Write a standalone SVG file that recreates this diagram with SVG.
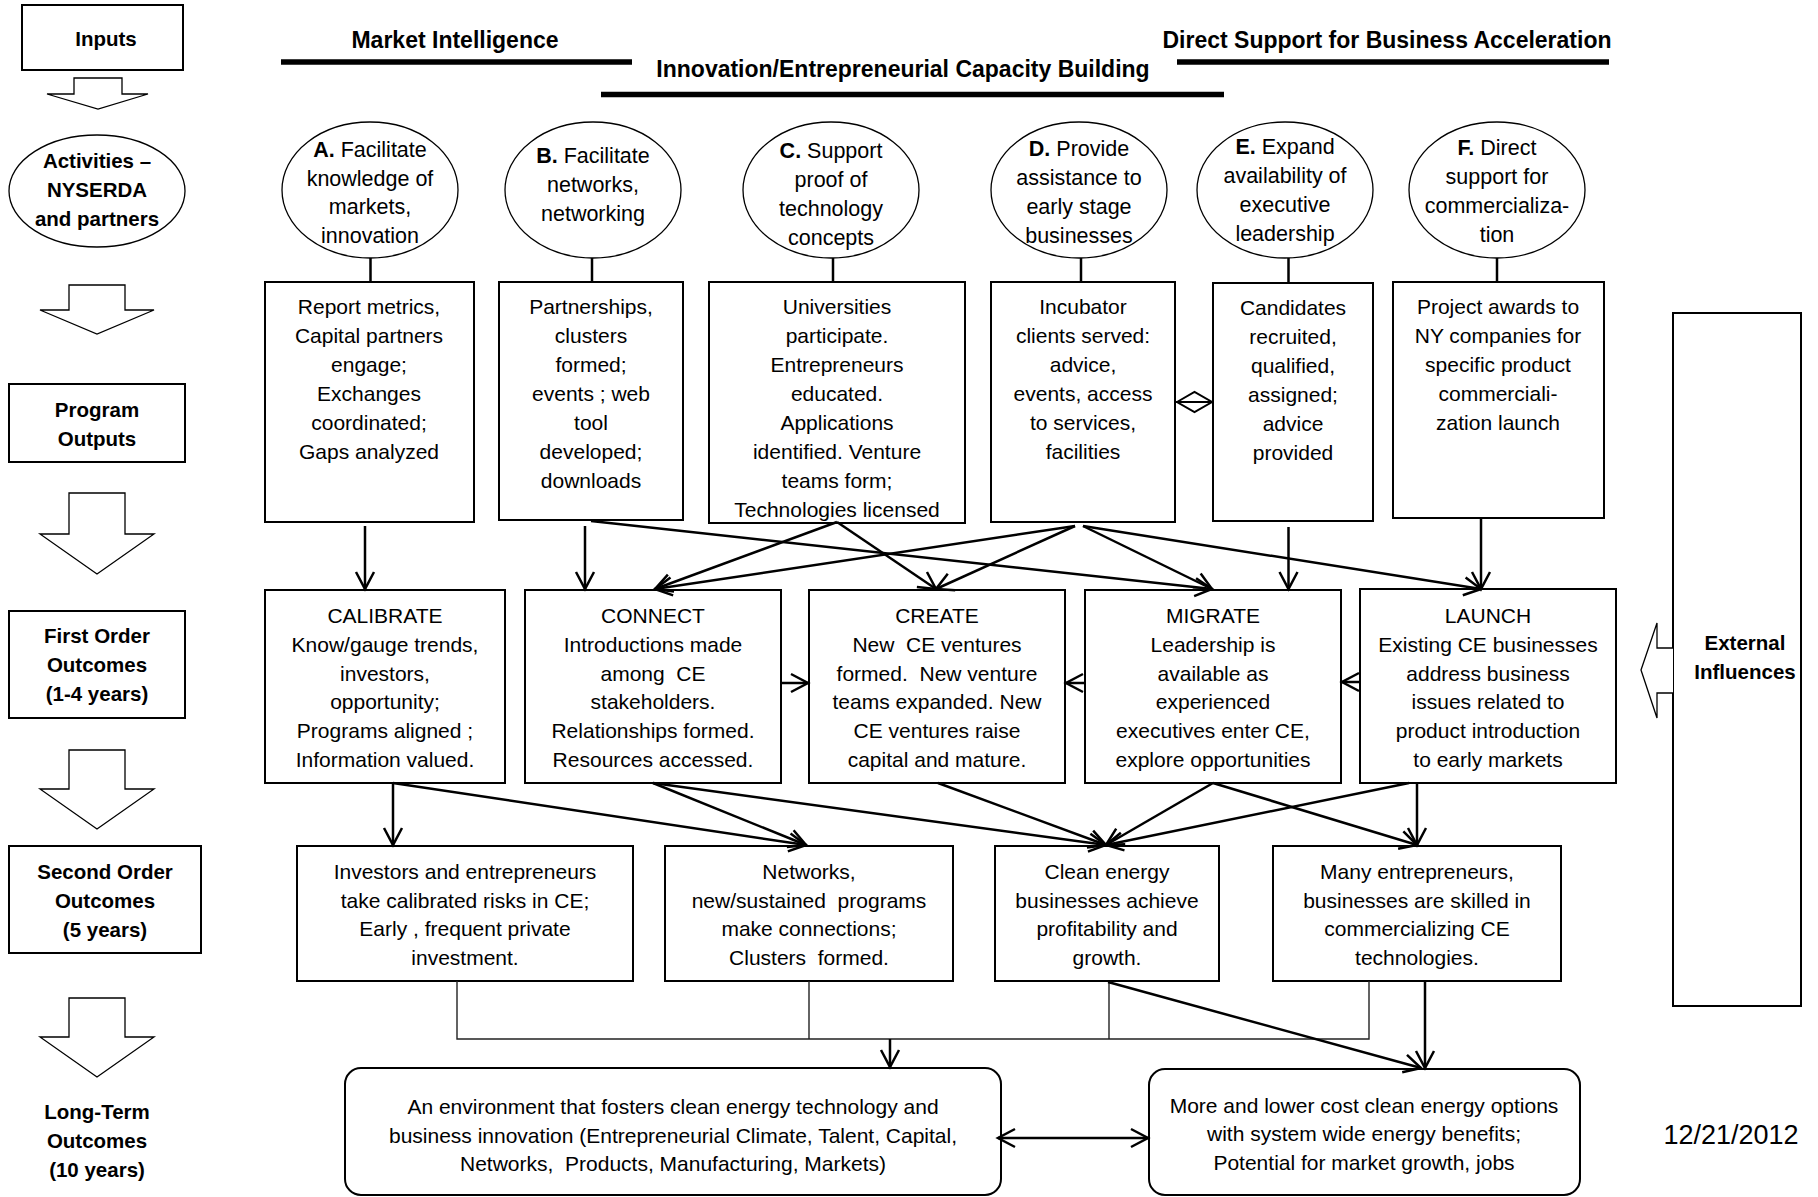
<svg xmlns="http://www.w3.org/2000/svg" width="1818" height="1197" viewBox="0 0 1818 1197">
  <style>
    text { font-family: "Liberation Sans", Arial, sans-serif; fill: #000; text-anchor: middle; }
    .hdr { font-size: 23px; font-weight: bold; }
    .lbl { font-size: 20.5px; font-weight: bold; }
    .et { font-size: 21.5px; }
    .bt { font-size: 21px; }
    .date { font-size: 27px; }
    .box { fill: #fff; stroke: #000; stroke-width: 2; }
    .oval { fill: #fff; stroke: #000; stroke-width: 1.3; }
    .blk { fill: #fff; stroke: #000; stroke-width: 1.3; stroke-linejoin: miter; }
    .rule { stroke: #000; stroke-width: 5.5; }
    .stem { stroke: #000; stroke-width: 2.5; fill: none; }
    .arr { stroke: #000; stroke-width: 2.5; fill: none; marker-end: url(#ah); }
    .bus { stroke: #222; stroke-width: 1.4; fill: none; }
  </style>
  <defs>
    <marker id="ah" markerUnits="userSpaceOnUse" viewBox="0 0 20 20" refX="18" refY="10" markerWidth="20" markerHeight="20" orient="auto-start-reverse" overflow="visible">
      <path d="M1,1 L18,10 L1,19" fill="none" stroke="#000" stroke-width="2.5"/>
    </marker>
  </defs>

  <rect width="1818" height="1197" fill="#fff"/>

  <!-- section headings -->
  <g id="headings">
    <text class="hdr" x="455" y="48">Market Intelligence</text>
    <line class="rule" x1="281" y1="62" x2="632" y2="62"/>
    <text class="hdr" x="903" y="77">Innovation/Entrepreneurial Capacity Building</text>
    <line class="rule" x1="601" y1="94.5" x2="1224" y2="94.5"/>
    <text class="hdr" x="1387" y="48">Direct Support for Business Acceleration</text>
    <line class="rule" x1="1177" y1="62" x2="1609" y2="62"/>
  </g>

  <!-- stage column on the left -->
  <g id="stage-inputs">
    <rect class="box" x="22" y="5" width="161" height="65"/>
    <text class="lbl" x="106" y="46">Inputs</text>
  </g>
  <g id="stage-activities">
    <ellipse class="oval" cx="97" cy="191" rx="88" ry="56"/>
    <text class="lbl"><tspan x="97" y="168">Activities –</tspan><tspan x="97" y="197">NYSERDA</tspan><tspan x="97" y="226">and partners</tspan></text>
  </g>
  <g id="stage-outputs">
    <rect class="box" x="9" y="384" width="176" height="78"/>
    <text class="lbl"><tspan x="97" y="417">Program</tspan><tspan x="97" y="446">Outputs</tspan></text>
  </g>
  <g id="stage-first">
    <rect class="box" x="9" y="611" width="176" height="107"/>
    <text class="lbl"><tspan x="97" y="643">First Order</tspan><tspan x="97" y="672">Outcomes</tspan><tspan x="97" y="701">(1-4 years)</tspan></text>
  </g>
  <g id="stage-second">
    <rect class="box" x="9" y="846" width="192" height="107"/>
    <text class="lbl"><tspan x="105" y="879">Second Order</tspan><tspan x="105" y="908">Outcomes</tspan><tspan x="105" y="937">(5 years)</tspan></text>
  </g>
  <g id="stage-longterm">
    <text class="lbl"><tspan x="97" y="1119">Long-Term</tspan><tspan x="97" y="1148">Outcomes</tspan><tspan x="97" y="1177">(10 years)</tspan></text>
  </g>
  <g id="stage-arrows">
    <polygon class="blk" points="74,78 122,78 122,94 148,94 98,109 47,94 74,94"/>
    <polygon class="blk" points="69,285 125,285 125,310 154,310 97,334 40,310 69,310"/>
    <polygon class="blk" points="69,493 125,493 125,534 154,534 97,574 40,534 69,534"/>
    <polygon class="blk" points="69,750 125,750 125,789 154,789 97,829 40,789 69,789"/>
    <polygon class="blk" points="69,998 125,998 125,1037 154,1037 97,1077 40,1037 69,1037"/>
  </g>

  <!-- activities A-F -->
  <g id="act-a">
    <ellipse class="oval" cx="370" cy="190" rx="88" ry="68"/>
    <text class="et"><tspan x="370" y="157"><tspan font-weight="bold">A.</tspan> Facilitate</tspan><tspan x="370" y="186">knowledge of</tspan><tspan x="370" y="214">markets,</tspan><tspan x="370" y="243">innovation</tspan></text>
  </g>
  <g id="act-b">
    <ellipse class="oval" cx="593" cy="190" rx="88" ry="68"/>
    <text class="et"><tspan x="593" y="163"><tspan font-weight="bold">B.</tspan> Facilitate</tspan><tspan x="593" y="192">networks,</tspan><tspan x="593" y="221">networking</tspan></text>
  </g>
  <g id="act-c">
    <ellipse class="oval" cx="831" cy="190" rx="88" ry="68"/>
    <text class="et"><tspan x="831" y="158"><tspan font-weight="bold">C.</tspan> Support</tspan><tspan x="831" y="187">proof of</tspan><tspan x="831" y="216">technology</tspan><tspan x="831" y="245">concepts</tspan></text>
  </g>
  <g id="act-d">
    <ellipse class="oval" cx="1079" cy="190" rx="88" ry="68"/>
    <text class="et"><tspan x="1079" y="156"><tspan font-weight="bold">D.</tspan> Provide</tspan><tspan x="1079" y="185">assistance to</tspan><tspan x="1079" y="214">early stage</tspan><tspan x="1079" y="243">businesses</tspan></text>
  </g>
  <g id="act-e">
    <ellipse class="oval" cx="1285" cy="190" rx="88" ry="68"/>
    <text class="et"><tspan x="1285" y="154"><tspan font-weight="bold">E.</tspan> Expand</tspan><tspan x="1285" y="183">availability of</tspan><tspan x="1285" y="212">executive</tspan><tspan x="1285" y="241">leadership</tspan></text>
  </g>
  <g id="act-f">
    <ellipse class="oval" cx="1497" cy="190" rx="88" ry="68"/>
    <text class="et"><tspan x="1497" y="155"><tspan font-weight="bold">F.</tspan> Direct</tspan><tspan x="1497" y="184">support for</tspan><tspan x="1497" y="213">commercializa-</tspan><tspan x="1497" y="242">tion</tspan></text>
  </g>

  <!-- program outputs -->
  <g id="out-a">
    <rect class="box" x="265" y="282" width="209" height="240"/>
    <text class="bt"><tspan x="369" y="314">Report metrics,</tspan><tspan x="369" y="343">Capital partners</tspan><tspan x="369" y="372">engage;</tspan><tspan x="369" y="401">Exchanges</tspan><tspan x="369" y="430">coordinated;</tspan><tspan x="369" y="459">Gaps analyzed</tspan></text>
  </g>
  <g id="out-b">
    <rect class="box" x="499" y="282" width="184" height="238"/>
    <text class="bt"><tspan x="591" y="314">Partnerships,</tspan><tspan x="591" y="343">clusters</tspan><tspan x="591" y="372">formed;</tspan><tspan x="591" y="401">events ; web</tspan><tspan x="591" y="430">tool</tspan><tspan x="591" y="459">developed;</tspan><tspan x="591" y="488">downloads</tspan></text>
  </g>
  <g id="out-c">
    <rect class="box" x="709" y="282" width="256" height="241"/>
    <text class="bt"><tspan x="837" y="314">Universities</tspan><tspan x="837" y="343">participate.</tspan><tspan x="837" y="372">Entrepreneurs</tspan><tspan x="837" y="401">educated.</tspan><tspan x="837" y="430">Applications</tspan><tspan x="837" y="459">identified. Venture</tspan><tspan x="837" y="488">teams form;</tspan><tspan x="837" y="517">Technologies licensed</tspan></text>
  </g>
  <g id="out-d">
    <rect class="box" x="991" y="282" width="184" height="240"/>
    <text class="bt"><tspan x="1083" y="314">Incubator</tspan><tspan x="1083" y="343">clients served:</tspan><tspan x="1083" y="372">advice,</tspan><tspan x="1083" y="401">events, access</tspan><tspan x="1083" y="430">to services,</tspan><tspan x="1083" y="459">facilities</tspan></text>
  </g>
  <g id="out-e">
    <rect class="box" x="1213" y="283" width="160" height="238"/>
    <text class="bt"><tspan x="1293" y="315">Candidates</tspan><tspan x="1293" y="344">recruited,</tspan><tspan x="1293" y="373">qualified,</tspan><tspan x="1293" y="402">assigned;</tspan><tspan x="1293" y="431">advice</tspan><tspan x="1293" y="460">provided</tspan></text>
  </g>
  <g id="out-f">
    <rect class="box" x="1393" y="282" width="211" height="236"/>
    <text class="bt"><tspan x="1498" y="314">Project awards to</tspan><tspan x="1498" y="343">NY companies for</tspan><tspan x="1498" y="372">specific product</tspan><tspan x="1498" y="401">commerciali-</tspan><tspan x="1498" y="430">zation launch</tspan></text>
  </g>

  <!-- first order outcomes -->
  <g id="fo-calibrate">
    <rect class="box" x="265" y="590" width="240" height="193"/>
    <text class="bt"><tspan x="385" y="623">CALIBRATE</tspan><tspan x="385" y="652">Know/gauge trends,</tspan><tspan x="385" y="681">investors,</tspan><tspan x="385" y="709">opportunity;</tspan><tspan x="385" y="738">Programs aligned ;</tspan><tspan x="385" y="767">Information valued.</tspan></text>
  </g>
  <g id="fo-connect">
    <rect class="box" x="525" y="590" width="256" height="193"/>
    <text class="bt"><tspan x="653" y="623">CONNECT</tspan><tspan x="653" y="652">Introductions made</tspan><tspan x="653" y="681">among&#160; CE</tspan><tspan x="653" y="709">stakeholders.</tspan><tspan x="653" y="738">Relationships formed.</tspan><tspan x="653" y="767">Resources accessed.</tspan></text>
  </g>
  <g id="fo-create">
    <rect class="box" x="809" y="590" width="256" height="193"/>
    <text class="bt"><tspan x="937" y="623">CREATE</tspan><tspan x="937" y="652">New&#160; CE ventures</tspan><tspan x="937" y="681">formed.&#160; New venture</tspan><tspan x="937" y="709">teams expanded. New</tspan><tspan x="937" y="738">CE ventures raise</tspan><tspan x="937" y="767">capital and mature.</tspan></text>
  </g>
  <g id="fo-migrate">
    <rect class="box" x="1085" y="590" width="256" height="193"/>
    <text class="bt"><tspan x="1213" y="623">MIGRATE</tspan><tspan x="1213" y="652">Leadership is</tspan><tspan x="1213" y="681">available as</tspan><tspan x="1213" y="709">experienced</tspan><tspan x="1213" y="738">executives enter CE,</tspan><tspan x="1213" y="767">explore opportunities</tspan></text>
  </g>
  <g id="fo-launch">
    <rect class="box" x="1360" y="589" width="256" height="194"/>
    <text class="bt"><tspan x="1488" y="623">LAUNCH</tspan><tspan x="1488" y="652">Existing CE businesses</tspan><tspan x="1488" y="681">address business</tspan><tspan x="1488" y="709">issues related to</tspan><tspan x="1488" y="738">product introduction</tspan><tspan x="1488" y="767">to early markets</tspan></text>
  </g>

  <!-- second order outcomes -->
  <g id="so-investors">
    <rect class="box" x="297" y="846" width="336" height="135"/>
    <text class="bt"><tspan x="465" y="879">Investors and entrepreneurs</tspan><tspan x="465" y="908">take calibrated risks in CE;</tspan><tspan x="465" y="936">Early , frequent private</tspan><tspan x="465" y="965">investment.</tspan></text>
  </g>
  <g id="so-networks">
    <rect class="box" x="665" y="846" width="288" height="135"/>
    <text class="bt"><tspan x="809" y="879">Networks,</tspan><tspan x="809" y="908">new/sustained&#160; programs</tspan><tspan x="809" y="936">make connections;</tspan><tspan x="809" y="965">Clusters&#160; formed.</tspan></text>
  </g>
  <g id="so-profit">
    <rect class="box" x="995" y="846" width="224" height="135"/>
    <text class="bt"><tspan x="1107" y="879">Clean energy</tspan><tspan x="1107" y="908">businesses achieve</tspan><tspan x="1107" y="936">profitability and</tspan><tspan x="1107" y="965">growth.</tspan></text>
  </g>
  <g id="so-skilled">
    <rect class="box" x="1273" y="846" width="288" height="135"/>
    <text class="bt"><tspan x="1417" y="879">Many entrepreneurs,</tspan><tspan x="1417" y="908">businesses are skilled in</tspan><tspan x="1417" y="936">commercializing CE</tspan><tspan x="1417" y="965">technologies.</tspan></text>
  </g>

  <!-- long-term outcomes -->
  <g id="lt-environment">
    <rect class="box" x="345" y="1068" width="656" height="127" rx="16" ry="16" stroke-width="1.5"/>
    <text class="bt"><tspan x="673" y="1114">An environment that fosters clean energy technology and</tspan><tspan x="673" y="1143">business innovation (Entrepreneurial Climate, Talent, Capital,</tspan><tspan x="673" y="1171">Networks,&#160; Products, Manufacturing, Markets)</tspan></text>
  </g>
  <g id="lt-energy">
    <rect class="box" x="1149" y="1069" width="431" height="126" rx="16" ry="16" stroke-width="1.5"/>
    <text class="bt"><tspan x="1364" y="1113">More and lower cost clean energy options</tspan><tspan x="1364" y="1141">with system wide energy benefits;</tspan><tspan x="1364" y="1170">Potential for market growth, jobs</tspan></text>
  </g>

  <!-- external influences -->
  <g id="external">
    <rect class="box" x="1673" y="313" width="128" height="693"/>
    <text class="lbl"><tspan x="1745" y="650">External</tspan><tspan x="1745" y="679">Influences</tspan></text>
    <polyline class="blk" points="1673,648 1657,648 1657,623 1641,670 1657,718 1657,693 1673,693"/>
  </g>

  <g id="date">
    <text class="date" x="1731" y="1144">12/21/2012</text>
  </g>

  <!-- connectors -->
  <g id="connectors">
    <!-- activity to output stems -->
    <line class="stem" x1="370.5" y1="258" x2="370.5" y2="282"/>
    <line class="stem" x1="592" y1="258" x2="592" y2="282"/>
    <line class="stem" x1="833" y1="258" x2="833" y2="282"/>
    <line class="stem" x1="1081" y1="258" x2="1081" y2="282"/>
    <line class="stem" x1="1288.5" y1="258" x2="1288.5" y2="283"/>
    <line class="stem" x1="1497" y1="258" x2="1497" y2="282"/>

    <!-- incubator / candidates link -->
    <line x1="1175" y1="402" x2="1213" y2="402" stroke="#000" stroke-width="2"/>
    <polygon points="1177,402 1194.5,392 1212,402 1194.5,412" fill="none" stroke="#000" stroke-width="2"/>

    <!-- outputs to first order outcomes -->
    <line class="arr" x1="365" y1="526" x2="365" y2="589"/>
    <line class="arr" x1="585" y1="526" x2="585" y2="589"/>
    <line class="arr" x1="1288.5" y1="527" x2="1288.5" y2="589"/>
    <line class="arr" x1="1481" y1="518" x2="1481" y2="589"/>
    <line class="arr" x1="591" y1="521" x2="1212" y2="589"/>
    <line class="arr" x1="837" y1="522" x2="655" y2="589"/>
    <line class="arr" x1="837" y1="522" x2="936" y2="589"/>
    <line class="arr" x1="1075" y1="526" x2="655" y2="589"/>
    <line class="arr" x1="1075" y1="526" x2="936" y2="589"/>
    <line class="arr" x1="1083" y1="526" x2="1212" y2="589"/>
    <line class="arr" x1="1083" y1="526" x2="1481" y2="589"/>

    <!-- links within first order row -->
    <line class="arr" x1="781" y1="683" x2="808" y2="683"/>
    <line class="arr" x1="1085" y1="683" x2="1066" y2="683"/>
    <line class="arr" x1="1360" y1="682" x2="1342" y2="682"/>

    <!-- first order to second order -->
    <line class="arr" x1="393" y1="783" x2="393" y2="845"/>
    <line class="arr" x1="393" y1="783" x2="806" y2="845"/>
    <line class="arr" x1="653" y1="783" x2="806" y2="845"/>
    <line class="arr" x1="653" y1="783" x2="1106" y2="845"/>
    <line class="arr" x1="938" y1="783" x2="1106" y2="845"/>
    <line class="arr" x1="1213" y1="783" x2="1106" y2="845"/>
    <line class="arr" x1="1213" y1="783" x2="1417" y2="845"/>
    <line class="arr" x1="1409" y1="783" x2="1106" y2="845"/>
    <line class="arr" x1="1417" y1="783" x2="1417" y2="845"/>

    <!-- second order to long-term -->
    <polyline class="bus" points="457,981 457,1039 1369,1039 1369,981"/>
    <line class="bus" x1="809" y1="981" x2="809" y2="1039"/>
    <line class="bus" x1="1109" y1="981" x2="1109" y2="1039"/>
    <line class="arr" x1="890" y1="1039" x2="890" y2="1067" stroke-width="1.6"/>
    <line class="arr" x1="1108" y1="982" x2="1421" y2="1068"/>
    <line class="arr" x1="1425" y1="982" x2="1425" y2="1068"/>

    <!-- between long-term outcomes -->
    <line class="arr" x1="998" y1="1138" x2="1148" y2="1138" marker-start="url(#ah)"/>
  </g>
</svg>
